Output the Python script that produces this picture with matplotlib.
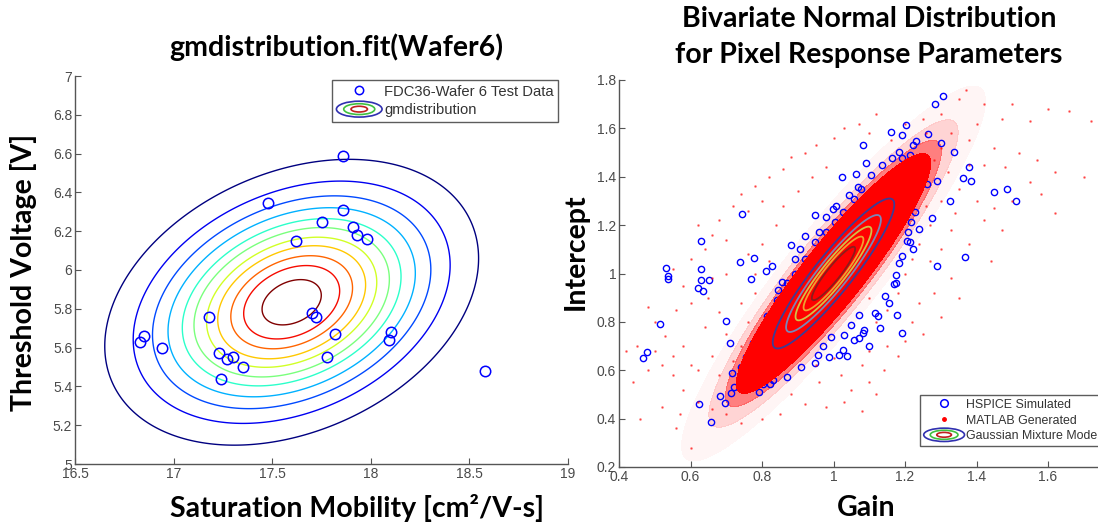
import matplotlib
matplotlib.use("Agg")
import matplotlib.pyplot as plt
import numpy as np
from matplotlib.lines import Line2D
from matplotlib.patches import Ellipse
from matplotlib.legend_handler import HandlerBase

# ---- left panel: wafer 6 test data (saturation mobility, threshold voltage)
wafer_mobility = [17.86, 17.48, 17.86, 17.75, 17.91, 17.93, 17.98, 17.62, 17.18, 17.70,
                  17.72, 16.85, 16.83, 16.94, 17.82, 18.10, 18.09, 17.23, 17.27, 17.30,
                  17.35, 17.24, 17.78, 18.58]
wafer_vth = [6.59, 6.345, 6.31, 6.245, 6.22, 6.18, 6.16, 6.15, 5.76, 5.78,
             5.76, 5.66, 5.63, 5.60, 5.67, 5.68, 5.64, 5.57, 5.54, 5.55,
             5.50, 5.44, 5.55, 5.48]
# contour levels as fraction of the fitted pdf peak
left_level_fracs = [0.085, 0.17, 0.255, 0.34, 0.43, 0.51, 0.6, 0.68, 0.77, 0.85, 0.94]

# ---- right panel
core_mean = [1.0, 1.0]          # gain, intercept
core_std = [0.085, 0.155]
core_rho = 0.92
gmm_radii = [2.0, 1.56, 1.25, 0.985, 0.714]   # mahalanobis radius of each GMM contour
gmm_colors = ["#3c3c96", "#7b86b8", "#d2c048", "#f0a030", "#8c1c1c"]

hspice_gain = [1.305, 1.284, 1.203, 1.162, 1.193, 1.264, 1.30, 1.083, 1.338, 1.379,
               1.361, 1.385, 1.289, 1.325, 1.45, 1.486, 1.51, 1.276, 1.367, 1.289,
               1.24, 1.205, 1.222, 1.174, 1.169, 1.156, 1.177, 1.13, 1.193, 1.10,
               1.071, 1.083, 1.039, 1.015, 0.958, 0.97, 0.993, 1.029, 1.049, 1.071,
               1.125, 0.793, 0.822, 0.766, 0.696, 0.683, 0.624, 0.657, 0.714, 0.723,
               0.711, 0.70, 0.793, 0.466, 0.479, 0.516, 0.532, 0.538, 0.538, 0.629,
               0.629, 0.629, 0.622, 0.635, 0.653, 0.744, 0.738, 0.778, 0.769, 0.81,
               0.829, 0.856, 0.846, 0.891, 0.905, 0.881, 0.92, 0.949, 0.959, 0.979,
               0.998, 1.025, 1.063, 1.091, 1.069, 1.042, 1.008, 1.213, 1.227, 1.237,
               1.257, 1.261, 1.222, 1.218, 1.227, 1.208, 1.213, 0.891, 0.871, 0.842,
               0.813, 0.793, 0.774, 0.754, 0.74, 0.715, 0.92, 0.949, 0.979, 1.003,
               1.027, 1.057, 1.076, 1.105, 1.135, 1.164, 1.183, 1.193, 1.222, 1.232,
               1.144, 1.115, 1.086, 1.057, 1.027, 0.988, 0.949, 0.91, 0.871, 0.832,
               0.803, 1.174, 1.183, 1.193]
hspice_intercept = [1.733, 1.699, 1.612, 1.587, 1.573, 1.576, 1.54, 1.532, 1.501, 1.439,
                    1.393, 1.383, 1.383, 1.301, 1.339, 1.351, 1.298, 1.229, 1.067, 1.031,
                    1.184, 1.136, 1.101, 0.992, 0.957, 0.878, 0.827, 0.774, 0.756, 0.70,
                    0.735, 0.753, 0.66, 0.663, 0.663, 0.70, 0.739, 0.746, 0.788, 0.827,
                    0.823, 0.51, 0.545, 0.548, 0.464, 0.492, 0.461, 0.388, 0.506, 0.531,
                    0.711, 0.802, 0.677, 0.652, 0.674, 0.792, 1.022, 0.99, 0.976, 1.134,
                    1.017, 0.972, 0.941, 0.926, 0.972, 1.248, 1.047, 1.066, 0.978, 1.009,
                    1.031, 0.965, 0.931, 1.059, 1.101, 1.117, 1.156, 1.24, 1.17, 1.233,
                    1.267, 1.40, 1.411, 1.455, 1.358, 1.323, 1.281, 1.49, 1.448, 1.42,
                    1.434, 1.372, 1.295, 1.212, 1.254, 1.17, 1.129, 1.0, 0.962, 0.892,
                    0.823, 0.753, 0.712, 0.656, 0.614, 0.587, 1.059, 1.129, 1.17, 1.212,
                    1.254, 1.309, 1.351, 1.407, 1.448, 1.476, 1.504, 1.476, 1.532, 1.546,
                    0.906, 0.837, 0.767, 0.725, 0.684, 0.656, 0.628, 0.614, 0.573, 0.559,
                    0.545, 0.962, 1.045, 1.073]

matlab_sparse = [(1.37, 1.76), (1.35, 1.72), (1.42, 1.70), (1.50, 1.70), (1.60, 1.68), (1.66, 1.67),
                 (1.72, 1.63), (1.55, 1.63), (1.47, 1.64), (1.40, 1.62), (1.30, 1.66), (1.25, 1.64),
                 (1.33, 1.58), (1.38, 1.55), (1.45, 1.52), (1.52, 1.50), (1.57, 1.47), (1.62, 1.42),
                 (1.48, 1.44), (1.42, 1.45), (1.55, 1.38), (1.58, 1.33), (1.50, 1.30), (1.45, 1.27),
                 (1.40, 1.30), (1.35, 1.35), (1.32, 1.42), (1.28, 1.47), (1.30, 1.52), (1.26, 1.58),
                 (1.42, 1.22), (1.47, 1.18), (1.44, 1.05), (1.38, 1.12), (1.33, 1.18), (1.30, 1.10),
                 (1.27, 1.05), (1.33, 0.98), (1.28, 0.92), (1.24, 0.88), (1.30, 0.82), (1.35, 0.90),
                 (1.22, 0.80), (1.20, 0.72), (1.25, 0.75), (1.18, 0.66), (1.14, 0.60), (1.10, 0.55),
                 (1.05, 0.52), (1.03, 0.47), (0.98, 0.45), (1.12, 0.50), (1.08, 0.62), (1.15, 0.70),
                 (1.08, 0.43), (0.92, 0.46), (0.88, 0.50), (0.85, 0.42), (0.80, 0.40), (0.74, 0.38),
                 (0.70, 0.42), (0.66, 0.44), (0.62, 0.47), (0.58, 0.52), (0.55, 0.58), (0.52, 0.62),
                 (0.48, 0.60), (0.45, 0.70), (0.50, 0.68), (0.55, 0.66), (0.60, 0.62), (0.58, 0.70),
                 (0.53, 0.74), (0.50, 0.80), (0.48, 0.86), (0.56, 0.85), (0.60, 0.88), (0.58, 0.95),
                 (0.55, 1.02), (0.60, 1.06), (0.64, 1.10), (0.62, 1.20), (0.66, 1.16), (0.70, 1.14),
                 (0.68, 1.22), (0.72, 1.28), (0.74, 1.33), (0.78, 1.36), (0.76, 1.26), (0.80, 1.30),
                 (0.82, 1.40), (0.86, 1.43), (0.88, 1.48), (0.92, 1.50), (0.95, 1.53), (1.00, 1.56),
                 (1.03, 1.60), (1.07, 1.62), (1.10, 1.58), (1.12, 1.66), (0.66, 0.98), (0.70, 1.00),
                 (0.65, 0.90), (0.68, 0.84), (0.64, 0.78), (0.70, 0.75), (0.66, 0.66), (0.62, 0.60),
                 (0.68, 0.58), (0.72, 0.64), (0.74, 0.70), (0.76, 0.80), (0.74, 0.88), (0.78, 0.92),
                 (0.80, 1.12), (0.84, 1.20), (0.86, 1.28), (0.90, 1.34), (0.94, 1.40), (0.98, 1.44),
                 (0.82, 1.05), (0.78, 1.00), (0.76, 1.08), (1.10, 0.90), (1.12, 0.80), (1.15, 0.85),
                 (1.18, 0.92), (1.20, 1.00), (1.22, 1.06), (1.24, 1.12), (1.10, 0.68), (1.02, 0.58),
                 (0.96, 0.55), (0.95, 0.62), (1.00, 0.65), (1.26, 1.28), (1.30, 1.30), (1.34, 1.25),
                 (1.27, 1.20), (1.38, 1.45), (1.16, 1.55), (1.20, 1.62), (0.44, 0.55), (0.52, 0.45),
                 (0.57, 0.42), (0.46, 0.40), (1.75, 1.55), (1.62, 1.25), (1.70, 1.40), (0.60, 0.28),
                 (0.56, 0.36), (0.42, 0.68)]

TICK_FONT = "Liberation Sans"
TITLE_FONT = "Lato"
GREY = "#4a4a4a"

W, H = 1098, 527
fig = plt.figure(figsize=(W / 100, H / 100), dpi=100)


def px_axes(x0, y_top, x1, y_bot):
    return fig.add_axes([x0 / W, 1 - y_bot / H, (x1 - x0) / W, (y_bot - y_top) / H])


def style_axes(ax):
    for s in ["top", "right"]:
        ax.spines[s].set_visible(False)
    for s in ["left", "bottom"]:
        ax.spines[s].set_color("#555555")
        ax.spines[s].set_linewidth(1.0)
    ax.tick_params(direction="in", length=4, color="#555555", labelcolor=GREY,
                   labelsize=10, pad=2)
    for lbl in ax.get_xticklabels() + ax.get_yticklabels():
        lbl.set_family(TICK_FONT)


def tick_text(v):
    return f"{v:g}"


class EllipseHandler(HandlerBase):
    def __init__(self, colors):
        super().__init__()
        self.colors = colors

    def create_artists(self, legend, orig_handle, xdescent, ydescent, width, height,
                       fontsize, trans):
        cx, cy = 0.5 * width - xdescent, 0.5 * height - ydescent
        out = []
        for i, c in enumerate(self.colors):
            s = 1 - 0.32 * i
            out.append(Ellipse((cx, cy), width * s, height * 1.3 * s, fill=False,
                               edgecolor=c, lw=1.2, transform=trans))
        return out


# ================= left panel =================
ax1 = px_axes(75, 76, 568, 464)
mx, my = np.array(wafer_mobility), np.array(wafer_vth)
mu = np.array([mx.mean(), my.mean()])
cov = np.cov(np.vstack([mx, my]), bias=True)
inv = np.linalg.inv(cov)
gx, gy = np.meshgrid(np.linspace(16.5, 19, 400), np.linspace(5, 7, 400))
dx, dy = gx - mu[0], gy - mu[1]
m2 = inv[0, 0] * dx ** 2 + 2 * inv[0, 1] * dx * dy + inv[1, 1] * dy ** 2
peak = 1 / (2 * np.pi * np.sqrt(np.linalg.det(cov)))
pdf = peak * np.exp(-0.5 * m2)
ax1.contour(gx, gy, pdf, levels=[f * peak for f in left_level_fracs], cmap="jet",
            linewidths=1.0)
ax1.plot(mx, my, "o", mfc="none", mec="blue", ms=7.5, mew=1.1, ls="none")
ax1.set_xlim(16.5, 19)
ax1.set_ylim(5, 7)
xt = np.arange(16.5, 19.01, 0.5)
yt = np.arange(5, 7.01, 0.2)
ax1.set_xticks(xt, [tick_text(round(v, 1)) for v in xt])
ax1.set_yticks(yt, [tick_text(round(v, 1)) for v in yt])
style_axes(ax1)

h_data = Line2D([], [], marker="o", mfc="none", mec="blue", ms=6, mew=1.1, ls="none")
h_gm = Line2D([], [])
leg1 = ax1.legend([h_data, h_gm], ["FDC36-Wafer 6 Test Data", "gmdistribution"],
                  handler_map={h_gm: EllipseHandler(["#3030b0", "#40c040", "#c02020"])},
                  loc="upper left", bbox_to_anchor=(332 / W, 1 - 80 / H),
                  bbox_transform=fig.transFigure, frameon=True, fancybox=False,
                  prop={"family": TICK_FONT, "size": 10.6}, handlelength=3.1,
                  handleheight=0.9, handletextpad=0.15, borderpad=0.3, labelspacing=0.3,
                  borderaxespad=0)
leg1.get_frame().set_edgecolor("#333333")
leg1.get_frame().set_linewidth(1.0)
for t in leg1.get_texts():
    t.set_color("#333333")

# ================= right panel =================
ax2 = px_axes(619, 80, 619 + 1.4 * 357.5, 467)
sx, sy = core_std
ccov = np.array([[sx * sx, core_rho * sx * sy], [core_rho * sx * sy, sy * sy]])
cinv = np.linalg.inv(ccov)
rx, ry = np.meshgrid(np.linspace(0.4, 1.8, 600), np.linspace(0.2, 1.8, 600))
ex, ey = rx - core_mean[0], ry - core_mean[1]
r2 = cinv[0, 0] * ex ** 2 + 2 * cinv[0, 1] * ex * ey + cinv[1, 1] * ey ** 2

# fuzzy edge of the generated cloud
ax2.contourf(rx, ry, r2, levels=[3.2 ** 2, 3.55 ** 2, 4.1 ** 2, 5.0 ** 2],
             colors=[(1, 0, 0, 0.5), (1, 0, 0, 0.17), (1, 0, 0, 0.04)], zorder=1)
ax2.plot(hspice_gain, hspice_intercept, "o", mfc="none", mec="blue", ms=4.5, mew=1.0,
         ls="none", zorder=2)
ax2.contourf(rx, ry, r2, levels=[0, 3.2 ** 2], colors=["red"], zorder=3)
sg = [p[0] for p in matlab_sparse]
si = [p[1] for p in matlab_sparse]
ax2.plot(sg, si, ".", color="red", ms=1.8, alpha=0.5, ls="none", zorder=3)
ax2.contour(rx, ry, r2, levels=sorted(r ** 2 for r in gmm_radii),
            colors=gmm_colors[::-1], linewidths=1.3, zorder=4)
ax2.set_xlim(0.4, 1.8)
ax2.set_ylim(0.2, 1.8)
xt2 = np.arange(0.4, 1.61, 0.2)
yt2 = np.arange(0.2, 1.81, 0.2)
ax2.set_xticks(xt2, [tick_text(round(v, 1)) for v in xt2])
ax2.set_yticks(yt2, [tick_text(round(v, 1)) for v in yt2])
style_axes(ax2)

h_hs = Line2D([], [], marker="o", mfc="none", mec="blue", ms=5.5, mew=1.1, ls="none")
h_ml = Line2D([], [], marker=".", color="red", ms=5, ls="none")
h_gmm = Line2D([], [])
leg2 = ax2.legend([h_hs, h_ml, h_gmm],
                  ["HSPICE Simulated", "MATLAB Generated", "Gaussian Mixture Model"],
                  handler_map={h_gmm: EllipseHandler(["#3030b0", "#40c040", "#c02020"])},
                  loc="upper left", bbox_to_anchor=(920 / W, 1 - 395 / H),
                  bbox_transform=fig.transFigure, frameon=True, fancybox=False,
                  prop={"family": TICK_FONT, "size": 8.9}, handlelength=3.3,
                  handleheight=0.9, handletextpad=0.15, borderpad=0.3, labelspacing=0.25,
                  borderaxespad=0)
leg2.get_frame().set_edgecolor("#333333")
leg2.get_frame().set_linewidth(1.0)
for t in leg2.get_texts():
    t.set_color("#333333")

# ================= titles and labels =================
tkw = dict(family=TITLE_FONT, weight="bold", fontsize=20.5, color="black",
           ha="center", va="center")
fig.text(336 / W, 1 - 47 / H, "gmdistribution.fit(Wafer6)", **tkw)
fig.text(869 / W, 1 - 19 / H, "Bivariate Normal Distribution", **tkw)
fig.text(869 / W, 1 - 55 / H, "for Pixel Response Parameters", **tkw)
fig.text(357 / W, 1 - 508 / H, "Saturation Mobility [cm\u00b2/V-s]", **tkw)
fig.text(866 / W, 1 - 508 / H, "Gain", **tkw)
fig.text(24 / W, 1 - 272 / H, "Threshold Voltage [V]", rotation=90, **tkw)
fig.text(576 / W, 1 - 252 / H, "Intercept", rotation=90, **tkw)

fig.savefig("out.png", dpi=100)
